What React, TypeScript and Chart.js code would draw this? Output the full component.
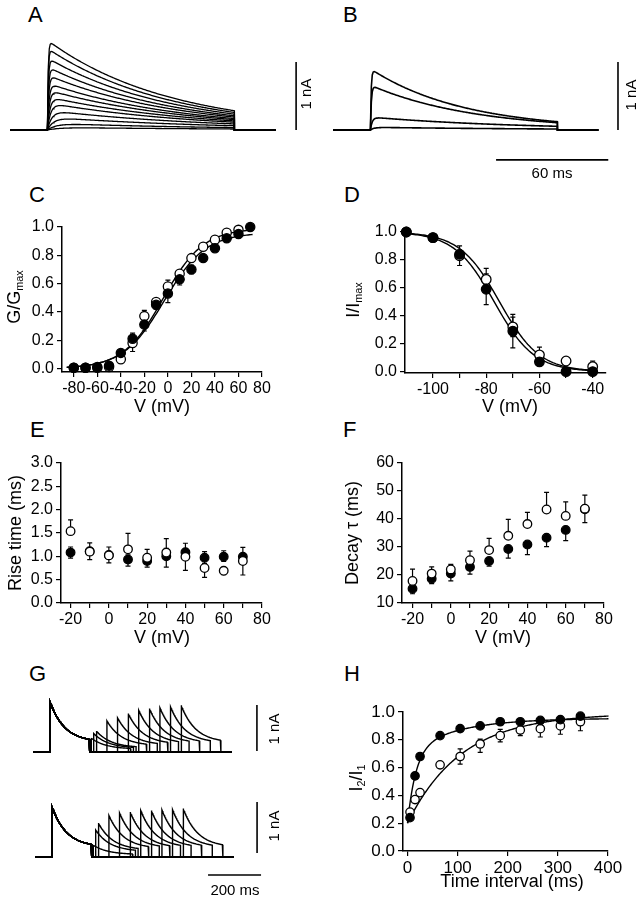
import React, { useEffect, useRef } from "react";
import { Chart, registerables } from "chart.js";

Chart.register(...registerables);

// ================= DATA =================
// Panel A: family of currents (amplitude nA, activation tau ms, inactivation tau ms)
const A_amp = [1.32, 1.2, 1.06, 0.93, 0.81, 0.69, 0.59, 0.49, 0.4, 0.29, 0.19, 0.1, 0.04];
const A_tauRise = [0.4, 0.4, 0.5, 0.6, 0.7, 0.9, 1.1, 1.4, 1.8, 2.5, 3.5, 5, 7];
const A_tauDecay = [65, 65, 66, 67, 69, 71, 74, 77, 80, 85, 90, 95, 100];
// Panel B
const B_amp = [0.9, 0.66, 0.19, 0.04];
const B_tauRise = [0.4, 0.5, 1, 2];
const B_tauDecay = [50, 55, 80, 100];
// pulse protocol for A/B (ms)
const PULSE_ON = 20;
const PULSE_DUR = 100;
const TRACE_END = 142;

// Panel C: G/Gmax vs V
const C_V = [-80, -70, -60, -50, -40, -30, -20, -10, 0, 10, 20, 30, 40, 50, 60, 70];
const C_filled = [0.005, 0.005, 0.01, 0.02, 0.11, 0.21, 0.31, 0.45, 0.53, 0.63, 0.7, 0.78, 0.85, 0.92, 0.95, 1.0];
const C_filledErr = [0, 0, 0.01, 0.01, 0.02, 0.04, 0.045, 0.03, 0.065, 0.04, 0.03, 0.01, 0.01, 0.01, 0.01, 0.01];
const C_open = [0.005, 0.005, 0.005, 0.01, 0.065, 0.18, 0.37, 0.47, 0.58, 0.67, 0.78, 0.86, 0.91, 0.96, 0.98, null];
const C_openErr = [0, 0, 0, 0, 0.02, 0.06, 0.04, 0.02, 0.045, 0.02, 0.01, 0.01, 0.01, 0.01, 0.01, 0];
const C_fitFilled = [0.96, -3, 17.5]; // Gmax, V1/2, k
const C_fitOpen = [0.99, -4, 17];
const C_ticksX = [-80, -60, -40, -20, 0, 20, 40, 60, 80];
const C_ticksY = [0, 0.2, 0.4, 0.6, 0.8, 1.0];

// Panel D: I/Imax vs V (inactivation)
const D_V = [-110, -100, -90, -80, -70, -60, -50, -40];
const D_filled = [1.0, 0.96, 0.84, 0.59, 0.29, 0.07, 0.0, 0.0];
const D_filledErr = [0, 0, 0.03, 0.11, 0.12, 0.025, 0, 0];
const D_open = [1.0, 0.96, 0.83, 0.66, 0.32, 0.12, 0.076, 0.035];
const D_openErr = [0, 0, 0.07, 0.08, 0.07, 0.055, 0.02, 0.04];
const D_fitFilled = [-77, 7.5]; // V1/2, k
const D_fitOpen = [-75, 7.5];
const D_ticksX = [-100, -90, -80, -70, -60, -50, -40];
const D_ticksY = [0, 0.2, 0.4, 0.6, 0.8, 1.0];

// Panel E: rise time
const E_V = [-20, -10, 0, 10, 20, 30, 40, 50, 60, 70];
const E_filled = [1.08, 1.11, 1.03, 0.93, 0.9, 1.0, 1.09, 0.97, 0.99, 0.99];
const E_filledErrUp = [0.12, 0.18, 0.17, 0.1, 0.1, 0.17, 0.19, 0.13, 0.13, 0.2];
const E_filledErrDown = [0.12, 0.18, 0.17, 0.14, 0.13, 0.23, 0.14, 0.12, 0.1, 0.15];
const E_open = [1.54, 1.1, 1.02, 1.15, 0.97, 1.08, 0.99, 0.75, 0.69, 0.9];
const E_openErrUp = [0.24, 0, 0, 0.34, 0.18, 0.3, 0, 0, 0, 0];
const E_openErrDown = [0, 0, 0, 0, 0, 0, 0.29, 0.2, 0.08, 0.3];
const E_ticksX = [-20, -10, 0, 10, 20, 30, 40, 50, 60, 70, 80];
const E_ticksY = [0, 0.5, 1.0, 1.5, 2.0, 2.5, 3.0];

// Panel F: decay tau
const F_V = [-20, -10, 0, 10, 20, 30, 40, 50, 60, 70];
const F_filled = [15.1, 18.7, 20.5, 22.9, 25.0, 29.3, 30.9, 33.3, 36.1, 43.5];
const F_filledErrDown = [1.8, 1.8, 2.6, 2.6, 1.8, 3.3, 3.6, 3.2, 3.8, 4.8];
const F_open = [17.9, 20.5, 22.0, 25.3, 28.9, 34.0, 38.2, 43.4, 41.1, 43.7];
const F_openErrUp = [4.2, 2.4, 1.8, 3.2, 4.2, 5.9, 4.2, 6.1, 5.0, 4.8];
const F_ticksX = [-20, -10, 0, 10, 20, 30, 40, 50, 60, 70, 80];
const F_ticksY = [10, 20, 30, 40, 50, 60];

// Panel H: recovery from inactivation
const H_t = [5, 15, 25, 65, 105, 145, 185, 225, 265, 305, 345];
const H_filled = [0.24, 0.54, 0.68, 0.83, 0.88, 0.9, 0.93, 0.93, 0.94, 0.945, 0.97];
const H_filledErr = [0.01, 0.02, 0.02, 0.01, 0.01, 0.01, 0.01, 0.01, 0.01, 0.02, 0.01];
const H_open = [0.28, 0.37, 0.42, 0.62, 0.68, 0.77, 0.83, 0.87, 0.88, 0.9, 0.93];
const H_openErrUp = [0.01, 0.02, 0.02, 0.01, 0.055, 0.035, 0.045, 0.02, 0.02, 0.02, 0.02];
const H_openErrDown = [0.01, 0.02, 0.02, 0.01, 0.055, 0.06, 0.045, 0.04, 0.06, 0.06, 0.065];
const H_fitFilled = [0.955, 0.512, 16.5, 0.243, 97.6]; // plateau, a1, tau1, a2, tau2
const H_fitOpen = [0.99, 0.79, 108]; // plateau, amplitude, tau
const H_ticksX = [0, 100, 200, 300, 400];
const H_ticksY = [0, 0.2, 0.4, 0.6, 0.8, 1.0];

// Panel G: paired-pulse traces (amplitude nA, decay tau, sustained fraction)
const G_amp = [1.09, 0.98];
const G_tau = [55, 55];
const G_sustain = [0.2, 0.2];
const G_pulseOn = 64;
const G_pulseDur = 150;
const G_traceEnd = 751;

// ================= HELPERS =================
const FONT = '"Liberation Sans", Arial, Helvetica, sans-serif';

type Pt = { x: number; y: number };

function line(data: Pt[], width = 1.3): any {
  return {
    data,
    showLine: true,
    pointRadius: 0,
    pointHoverRadius: 0,
    borderColor: "#000",
    borderWidth: width,
    fill: false,
    tension: 0,
    clip: false,
  };
}

function markers(xs: number[], ys: (number | null)[], filled: boolean, up?: number[], down?: number[], r = 4.5): any {
  const data: Pt[] = [];
  const eu: number[] = [];
  const ed: number[] = [];
  xs.forEach((x, i) => {
    const y = ys[i];
    if (y == null) return;
    data.push({ x, y });
    eu.push(up ? up[i] : 0);
    ed.push(down ? down[i] : 0);
  });
  return {
    data,
    errUp: eu,
    errDown: ed,
    showLine: false,
    pointRadius: r,
    pointHoverRadius: r,
    pointBackgroundColor: filled ? "#000" : "#fff",
    pointBorderColor: "#000",
    pointBorderWidth: 1.3,
    clip: false,
  };
}

function curve(x0: number, x1: number, n: number, f: (x: number) => number): Pt[] {
  const pts: Pt[] = [];
  for (let i = 0; i <= n; i++) {
    const x = x0 + ((x1 - x0) * i) / n;
    pts.push({ x, y: f(x) });
  }
  return pts;
}

function pulseTrace(amp: number, tr: number, td: number): Pt[] {
  const pts: Pt[] = [{ x: 0, y: 0 }, { x: PULSE_ON, y: 0 }];
  for (let t = 0; t <= PULSE_DUR; t += 0.5) {
    pts.push({ x: PULSE_ON + t, y: amp * (1 - Math.exp(-t / tr)) * Math.exp(-t / td) });
  }
  pts.push({ x: PULSE_ON + PULSE_DUR, y: 0 }, { x: TRACE_END, y: 0 });
  return pts;
}

function pairedTrace(amp: number, ratio: number, interval: number, tau: number, sus: number): Pt[] {
  const shape = (t: number) => sus + (1 - sus) * Math.exp(-t / tau);
  const pts: Pt[] = [{ x: 0, y: 0 }, { x: G_pulseOn, y: 0 }];
  for (let t = 0; t <= G_pulseDur; t += 2) pts.push({ x: G_pulseOn + t, y: amp * shape(t) });
  const end1 = G_pulseOn + G_pulseDur;
  const on2 = end1 + interval;
  pts.push({ x: end1, y: 0 }, { x: on2, y: 0 });
  for (let t = 0; t <= G_pulseDur; t += 2) pts.push({ x: on2 + t, y: amp * ratio * shape(t) });
  pts.push({ x: on2 + G_pulseDur, y: 0 }, { x: G_traceEnd, y: 0 });
  return pts;
}

const errorBars = {
  id: "errorBars",
  beforeDatasetsDraw(chart: any) {
    const ctx = chart.ctx;
    const ys = chart.scales.y;
    ctx.save();
    ctx.strokeStyle = "#000";
    ctx.lineWidth = 1.2;
    chart.data.datasets.forEach((ds: any, i: number) => {
      if (!ds.errUp) return;
      const meta = chart.getDatasetMeta(i);
      meta.data.forEach((el: any, j: number) => {
        const v = ds.data[j].y;
        const segs: [number, number][] = [
          [ds.errUp[j], 1],
          [ds.errDown[j], -1],
        ];
        for (const [e, s] of segs) {
          if (!e) continue;
          const yp = ys.getPixelForValue(v + s * e);
          ctx.beginPath();
          ctx.moveTo(el.x, el.y);
          ctx.lineTo(el.x, yp);
          ctx.moveTo(el.x - 2.5, yp);
          ctx.lineTo(el.x + 2.5, yp);
          ctx.stroke();
        }
      });
    });
    ctx.restore();
  },
};

type Rect = { left: number; top: number; width: number; height: number };

function ChartBox({ rect, config }: { rect: Rect; config: () => any }) {
  const ref = useRef<HTMLCanvasElement>(null);
  useEffect(() => {
    const c = new Chart(ref.current as HTMLCanvasElement, config());
    return () => c.destroy();
  }, []);
  return (
    <canvas
      ref={ref}
      width={rect.width}
      height={rect.height}
      style={{ position: "absolute", left: rect.left, top: rect.top, width: rect.width, height: rect.height }}
    />
  );
}

function baseOptions(scales: any) {
  return {
    animation: false,
    responsive: false,
    events: [],
    plugins: { legend: { display: false }, tooltip: { enabled: false } },
    scales,
  };
}

// trace panels: whole canvas = plot area, axes hidden
function tracePanel(rect: Rect, x0: number, pxPerX: number, y0: number, pxPerY: number, datasets: any[]) {
  const config = () => ({
    type: "scatter",
    data: { datasets },
    options: {
      ...baseOptions({
        x: { type: "linear", display: false, min: -x0 / pxPerX, max: (rect.width - x0) / pxPerX },
        y: { type: "linear", display: false, min: (y0 - rect.height) / pxPerY, max: y0 / pxPerY },
      }),
      layout: { padding: 0 },
    },
  });
  return { rect, config };
}

const ML = 58, MR = 26, MT = 14, MB = 30;

type AxisSpec = { min: number; max: number; ticks: number[]; label: (v: number) => string };

function axisPanel(area: { l: number; t: number; r: number; b: number }, xs: AxisSpec, ys: AxisSpec, datasets: any[], fontSize = 16) {
  const rect = { left: area.l - ML, top: area.t - MT, width: area.r - area.l + ML + MR, height: area.b - area.t + MT + MB };
  const sc = (o: AxisSpec, isX: boolean) => ({
    type: "linear",
    min: o.min,
    max: o.max,
    afterBuildTicks: (s: any) => {
      s.ticks = o.ticks.map((v) => ({ value: v }));
    },
    afterFit: (s: any) => {
      if (isX) s.height = MB;
      else s.width = ML;
    },
    ticks: {
      autoSkip: false,
      maxRotation: 0,
      minRotation: 0,
      color: "#000",
      font: { family: FONT, size: fontSize },
      padding: isX ? 2 : 3,
      callback: (v: any) => o.label(Number(v)),
    },
    grid: { display: true, drawOnChartArea: false, drawTicks: true, tickLength: 5, tickWidth: 1.2, color: "#000", lineWidth: 1.2 },
    border: { display: true, color: "#000", width: 1.5 },
  });
  const config = () => ({
    type: "scatter",
    data: { datasets },
    options: {
      ...baseOptions({ x: sc(xs, true), y: sc(ys, false) }),
      layout: { padding: { left: 0, bottom: 0, top: MT, right: MR } },
    },
    plugins: [errorBars],
  });
  return { rect, config };
}

const fx1 = (v: number) => v.toFixed(1);
const fint = (v: number) => String(Math.round(v));
const fevery20 = (v: number) => (Math.round(v) % 20 === 0 ? String(Math.round(v)) : "");

// ================= PANELS =================
const panelA = tracePanel({ left: 0, top: 30, width: 318, height: 110 }, 10, 1.87, 100, 68, [
  ...A_amp.map((a, i) => line(pulseTrace(a, A_tauRise[i], A_tauDecay[i]), 1.3)),
  line([{ x: 153, y: 0 }, { x: 153, y: 1 }], 1.6),
]);

const panelB = tracePanel({ left: 320, top: 40, width: 316, height: 132 }, 13, 1.87, 90, 68, [
  ...B_amp.map((a, i) => line(pulseTrace(a, B_tauRise[i], B_tauDecay[i]), 1.6)),
  line([{ x: 152.4, y: 0 }, { x: 152.4, y: 1 }], 1.6),
  line([{ x: 87.2, y: -0.44 }, { x: 147.2, y: -0.44 }], 1.6),
]);

const panelG1 = tracePanel({ left: 20, top: 690, width: 280, height: 72 }, 13, 0.265, 62, 46, [
  ...H_t.map((iv, i) => line(pairedTrace(G_amp[0], H_open[i], iv, G_tau[0], G_sustain[0]), 1.4)),
  line([{ x: 845, y: 0.02 }, { x: 845, y: 1.02 }], 1.6),
]);

const panelG2 = tracePanel({ left: 20, top: 790, width: 280, height: 96 }, 15, 0.265, 67, 51, [
  ...H_t.map((iv, i) => line(pairedTrace(G_amp[1], H_filled[i], iv, G_tau[1], G_sustain[1]), 1.4)),
  line([{ x: 838, y: 0.08 }, { x: 838, y: 1.08 }], 1.6),
  line([{ x: 653, y: -0.353 }, { x: 853, y: -0.353 }], 1.6),
]);

const boltz = (p: number[]) => (v: number) => p[0] / (1 + Math.exp((p[1] - v) / p[2]));
const panelC = axisPanel(
  { l: 62, t: 227, r: 262, b: 372 },
  { min: -90, max: 80, ticks: C_ticksX, label: fint },
  { min: -0.025, max: 1.0, ticks: C_ticksY, label: fx1 },
  [
    markers(C_V, C_filled, true, C_filledErr, C_filledErr, 4.6),
    markers(C_V, C_open, false, C_openErr, C_openErr, 4.6),
    line(curve(-86, 72, 120, boltz(C_fitFilled)), 1.4),
    line(curve(-86, 72, 120, boltz(C_fitOpen)), 1.4),
  ]
);

const inact = (p: number[]) => (v: number) => 1 / (1 + Math.exp((v - p[0]) / p[1]));
const panelD = axisPanel(
  { l: 405, t: 232, r: 606, b: 373 },
  { min: -110.5, max: -35, ticks: D_ticksX, label: fevery20 },
  { min: -0.01, max: 1.0, ticks: D_ticksY, label: fx1 },
  [
    markers(D_V, D_filled, true, D_filledErr, D_filledErr, 4.8),
    markers(D_V, D_open, false, D_openErr, D_openErr, 4.8),
    line(curve(-110, -39, 120, inact(D_fitFilled)), 1.4),
    line(curve(-110, -39, 120, inact(D_fitOpen)), 1.4),
  ]
);

const panelE = axisPanel(
  { l: 61, t: 463, r: 262, b: 603 },
  { min: -25, max: 80, ticks: E_ticksX, label: fevery20 },
  { min: 0, max: 3.0, ticks: E_ticksY, label: fx1 },
  [
    markers(E_V, E_open, false, E_openErrUp, E_openErrDown, 4.3),
    markers(E_V, E_filled, true, E_filledErrUp, E_filledErrDown, 4.3),
  ]
);

const panelF = axisPanel(
  { l: 402, t: 463, r: 604, b: 603 },
  { min: -25.5, max: 80, ticks: F_ticksX, label: fevery20 },
  { min: 10, max: 60, ticks: F_ticksY, label: fint },
  [
    markers(F_V, F_open, false, F_openErrUp, undefined, 4.3),
    markers(F_V, F_filled, true, undefined, F_filledErrDown, 4.3),
  ]
);

const recFilled = (p: number[]) => (t: number) => p[0] - p[1] * Math.exp(-t / p[2]) - p[3] * Math.exp(-t / p[4]);
const recOpen = (p: number[]) => (t: number) => p[0] - p[1] * Math.exp(-t / p[2]);
const panelH = axisPanel(
  { l: 403, t: 712, r: 608, b: 851 },
  { min: -9, max: 400, ticks: H_ticksX, label: fint },
  { min: 0, max: 1.0, ticks: H_ticksY, label: fx1 },
  [
    markers(H_t, H_filled, true, H_filledErr, H_filledErr, 4.2),
    markers(H_t, H_open, false, H_openErrUp, H_openErrDown, 4.2),
    line(curve(0, 405, 200, recFilled(H_fitFilled)), 1.4),
    line(curve(0, 405, 200, recOpen(H_fitOpen)), 1.4),
  ],
  17
);

const panels = [panelA, panelB, panelC, panelD, panelE, panelF, panelG1, panelG2, panelH];

// ================= TEXT =================
function Letter({ x, base, children }: { x: number; base: number; children: any }) {
  const size = 22;
  return (
    <div style={{ position: "absolute", left: x, top: base - 0.8465 * size, fontSize: size, lineHeight: 1, fontFamily: FONT, color: "#000", whiteSpace: "nowrap" }}>
      {children}
    </div>
  );
}

function Centered({ cx, cy, size, rot = 0, children }: { cx: number; cy: number; size: number; rot?: number; children: any }) {
  return (
    <div
      style={{
        position: "absolute",
        left: cx,
        top: cy,
        transform: `translate(-50%, -50%) rotate(${rot}deg)`,
        fontSize: size,
        lineHeight: 1,
        fontFamily: FONT,
        color: "#000",
        whiteSpace: "nowrap",
      }}
    >
      {children}
    </div>
  );
}

const subStyle: React.CSSProperties = { fontSize: "0.6em", verticalAlign: "-0.3em", lineHeight: 1 };
const TS = 18;

export default function App() {
  return (
    <div style={{ position: "absolute", left: 0, top: 0, width: 636, height: 899, background: "#fff", overflow: "hidden" }}>
      {panels.map((p, i) => (
        <ChartBox key={i} rect={p.rect} config={p.config} />
      ))}
      <Letter x={28} base={23}>A</Letter>
      <Letter x={343} base={23}>B</Letter>
      <Letter x={29} base={203}>C</Letter>
      <Letter x={344} base={203}>D</Letter>
      <Letter x={30} base={438}>E</Letter>
      <Letter x={343} base={438}>F</Letter>
      <Letter x={29} base={682}>G</Letter>
      <Letter x={344} base={682}>H</Letter>

      <Centered cx={305} cy={94} size={15} rot={-90}>1 nA</Centered>
      <Centered cx={630} cy={95} size={15} rot={-90}>1 nA</Centered>
      <Centered cx={552} cy={172} size={15}>60 ms</Centered>
      <Centered cx={273} cy={729} size={15} rot={-90}>1 nA</Centered>
      <Centered cx={273} cy={826} size={15} rot={-90}>1 nA</Centered>
      <Centered cx={235} cy={889} size={15}>200 ms</Centered>

      <Centered cx={15} cy={297} size={TS} rot={-90}>
        G/G<sub style={subStyle}>max</sub>
      </Centered>
      <Centered cx={354} cy={300} size={TS} rot={-90}>
        I/I<sub style={subStyle}>max</sub>
      </Centered>
      <Centered cx={15} cy={533} size={TS} rot={-90}>Rise time (ms)</Centered>
      <Centered cx={352} cy={533} size={TS} rot={-90}>Decay τ (ms)</Centered>
      <Centered cx={357} cy={778} size={TS} rot={-90}>
        I<sub style={subStyle}>2</sub>/I<sub style={subStyle}>1</sub>
      </Centered>

      <Centered cx={162} cy={406} size={TS}>V (mV)</Centered>
      <Centered cx={510} cy={406} size={TS}>V (mV)</Centered>
      <Centered cx={162} cy={637} size={TS}>V (mV)</Centered>
      <Centered cx={503} cy={637} size={TS}>V (mV)</Centered>
      <Centered cx={512} cy={881} size={TS}>Time interval (ms)</Centered>
    </div>
  );
}
